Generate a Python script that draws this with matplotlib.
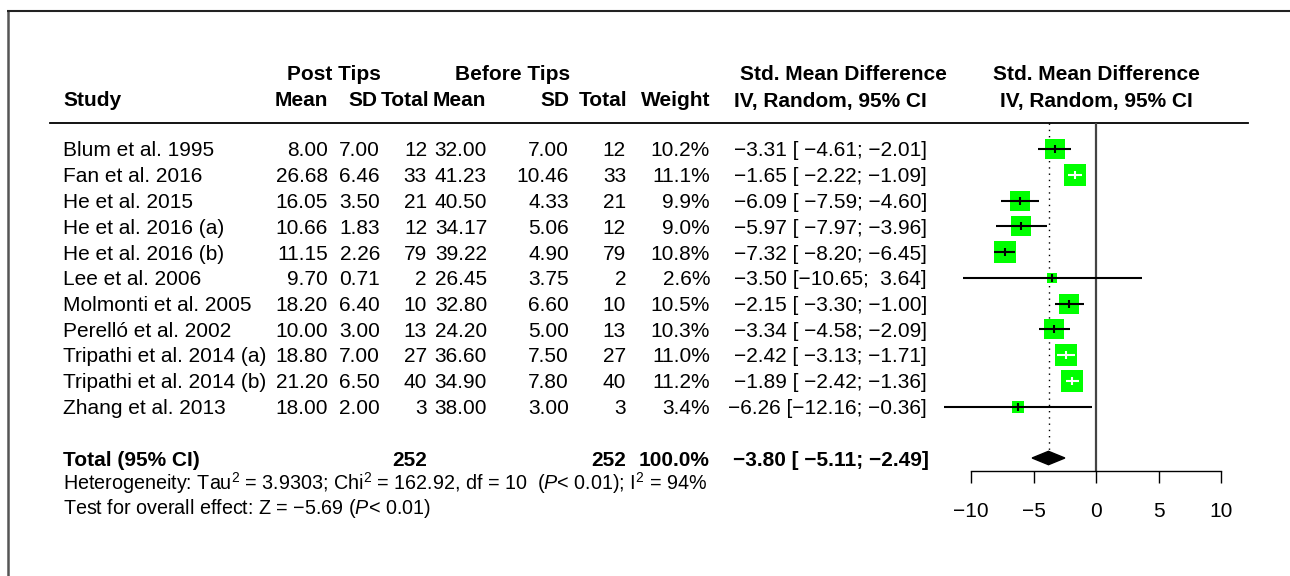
import numpy as np
import matplotlib
matplotlib.use("Agg")
import matplotlib.pyplot as plt

plt.rcParams['font.family'] = ['Liberation Sans', 'DejaVu Sans']
plt.rcParams['mathtext.fontset'] = 'custom'
plt.rcParams['mathtext.rm'] = 'Liberation Sans'
plt.rcParams['mathtext.it'] = 'Liberation Sans:italic'
plt.rcParams['mathtext.bf'] = 'Liberation Sans:bold'

# ---------------- data ----------------
studies = ["Blum et al. 1995", "Fan et al. 2016", "He et al. 2015", "He et al. 2016 (a)",
           "He et al. 2016 (b)", "Lee et al. 2006", "Molmonti et al. 2005",
           "Perelló et al. 2002", "Tripathi et al. 2014 (a)", "Tripathi et al. 2014 (b)",
           "Zhang et al. 2013"]
post_mean = [8.00, 26.68, 16.05, 10.66, 11.15, 9.70, 18.20, 10.00, 18.80, 21.20, 18.00]
post_sd = [7.00, 6.46, 3.50, 1.83, 2.26, 0.71, 6.40, 3.00, 7.00, 6.50, 2.00]
post_n = [12, 33, 21, 12, 79, 2, 10, 13, 27, 40, 3]
before_mean = [32.00, 41.23, 40.50, 34.17, 39.22, 26.45, 32.80, 24.20, 36.60, 34.90, 38.00]
before_sd = [7.00, 10.46, 4.33, 5.06, 4.90, 3.75, 6.60, 5.00, 7.50, 7.80, 3.00]
before_n = [12, 33, 21, 12, 79, 2, 10, 13, 27, 40, 3]
weights = [10.2, 11.1, 9.9, 9.0, 10.8, 2.6, 10.5, 10.3, 11.0, 11.2, 3.4]
smd = [-3.31, -1.65, -6.09, -5.97, -7.32, -3.50, -2.15, -3.34, -2.42, -1.89, -6.26]
ci_lower = [-4.61, -2.22, -7.59, -7.97, -8.20, -10.65, -3.30, -4.58, -3.13, -2.42, -12.16]
ci_upper = [-2.01, -1.09, -4.60, -3.96, -6.45, 3.64, -1.00, -2.09, -1.71, -1.36, -0.36]

total_post_n = 252
total_before_n = 252
total_weight = 100.0
total_smd = -3.80
total_lower = -5.11
total_upper = -2.49

heterogeneity = r"Heterogeneity: Tau$^2$ = 3.9303; Chi$^2$ = 162.92, df = 10  ($\it{P}$< 0.01); I$^2$ = 94%"
overall = r"Test for overall effect: Z = $-$5.69 ($\it{P}$< 0.01)"
xticks = [-10, -5, 0, 5, 10]

# ---------------- layout ----------------
W, H = 1290, 576
fig = plt.figure(figsize=(W / 100, H / 100), dpi=100)
fig.patch.set_facecolor('white')

axt = fig.add_axes([0, 0, 1, 1])
axt.set_xlim(0, W)
axt.set_ylim(H, 0)
axt.axis('off')

# frame
axt.plot([7.5, 7.5], [10.5, H + 5], color='#555555', lw=1.8, solid_capstyle='butt')
axt.plot([7, W + 5], [10.5, 10.5], color='#222222', lw=1.5, solid_capstyle='butt')

FS = 15.0
FS_FOOT = 14.2
row0 = 149.0
dy = 25.75
base_off = 7.5

def fmt(v, w=0):
    s = f"{v:{w}.2f}" if w else f"{v:.2f}"
    return s.replace('-', '\u2212')

def t(x, y, s, ha='left', bold=False, fs=FS, off=base_off):
    axt.text(x, y + off, s, ha=ha, va='baseline', fontsize=fs,
             fontweight='bold' if bold else 'normal', color='black')

# headers
hy1 = 73.0
hy2 = 99.0
t(334, hy1, "Post Tips", ha='center', bold=True)
t(513, hy1, "Before Tips", ha='center', bold=True)
t(843, hy1, "Std. Mean Difference", ha='center', bold=True)
t(1096, hy1, "Std. Mean Difference", ha='center', bold=True)
t(63, hy2, "Study", bold=True)
col_x = [328, 380, 427, 487, 569, 626, 710]
head_x = [328, 377, 429, 486, 569, 627, 710]
for x, lab in zip(head_x, ["Mean", "SD", "Total", "Mean", "SD", "Total", "Weight"]):
    t(x, hy2, lab, ha='right', bold=True)
t(927, hy2, "IV, Random, 95% CI", ha='right', bold=True)
t(1096, hy2, "IV, Random, 95% CI", ha='center', bold=True)

axt.plot([50, 1248], [123, 123], color='black', lw=1.3)

# rows
for i, name in enumerate(studies):
    y = row0 + i * dy
    t(63, y, name)
    t(col_x[0], y, fmt(post_mean[i]), ha='right')
    t(col_x[1], y, fmt(post_sd[i]), ha='right')
    t(col_x[2], y, str(post_n[i]), ha='right')
    t(col_x[3], y, fmt(before_mean[i]), ha='right')
    t(col_x[4], y, fmt(before_sd[i]), ha='right')
    t(col_x[5], y, str(before_n[i]), ha='right')
    t(col_x[6], y, f"{weights[i]:.1f}%", ha='right')
    t(927, y, f"{fmt(smd[i])} [{fmt(ci_lower[i], 6)}; {fmt(ci_upper[i], 5)}]", ha='right')

ty = 458.0
t(63, ty, "Total (95% CI)", bold=True)
t(col_x[2], ty, str(total_post_n), ha='right', bold=True)
t(col_x[5], ty, str(total_before_n), ha='right', bold=True)
t(col_x[6], ty, f"{total_weight:.1f}%", ha='right', bold=True)
t(929, ty, f"{fmt(total_smd)} [{fmt(total_lower, 6)}; {fmt(total_upper, 5)}]", ha='right', bold=True)

t(63, 483, heterogeneity, fs=FS_FOOT, off=7)
t(63, 507, overall, fs=FS_FOOT, off=7)

# ---------------- forest panel ----------------
x_left, x_right = 971, 1221
y_top, y_axis = 123, 471
k_top = (y_top - row0) / dy
k_bot = (y_axis - row0) / dy
total_k = (ty - row0) / dy

ax = fig.add_axes([x_left / W, 1 - y_axis / H, (x_right - x_left) / W, (y_axis - y_top) / H])
ax.set_xlim(xticks[0], xticks[-1])
ax.set_ylim(k_bot, k_top)
ax.patch.set_alpha(0)
for s in ['top', 'right', 'left']:
    ax.spines[s].set_visible(False)
ax.spines['bottom'].set_linewidth(1.0)
ax.set_yticks([])
ax.set_xticks(xticks)
ax.tick_params(axis='x', direction='out', length=8.6, width=1.0, pad=13.5, labelsize=FS)

ax.axvline(0, color='#444444', lw=1.6, zorder=1)
ax.plot([total_smd, total_smd], [k_top, total_k - 0.3], color='black', lw=1.0,
        linestyle=(0, (1, 3.5)), zorder=1)

px_per_unit = (x_right - x_left) / (xticks[-1] - xticks[0])
max_side = 21.5
wmax = max(weights)
for i in range(len(studies)):
    side_px = max_side * np.sqrt(weights[i] / wmax)
    width_px = (ci_upper[i] - ci_lower[i]) * px_per_unit
    c = 'white' if width_px < side_px else 'black'
    ax.plot([smd[i]], [i], marker='s', ms=side_px * 0.72, color='#00ff00', mew=0,
            zorder=2, clip_on=False)
    ax.plot([ci_lower[i], ci_upper[i]], [i, i], color=c, lw=1.5, zorder=3,
            clip_on=False, solid_capstyle='butt')
    ax.plot([smd[i]], [i], marker='|', ms=5.5, mew=1.5, color=c, zorder=4, clip_on=False)

dh = 0.26
ax.fill([total_lower, total_smd, total_upper, total_smd],
        [total_k, total_k - dh, total_k, total_k + dh], color='black', zorder=3, clip_on=False)

fig.savefig("out.png", dpi=100, facecolor='white')
